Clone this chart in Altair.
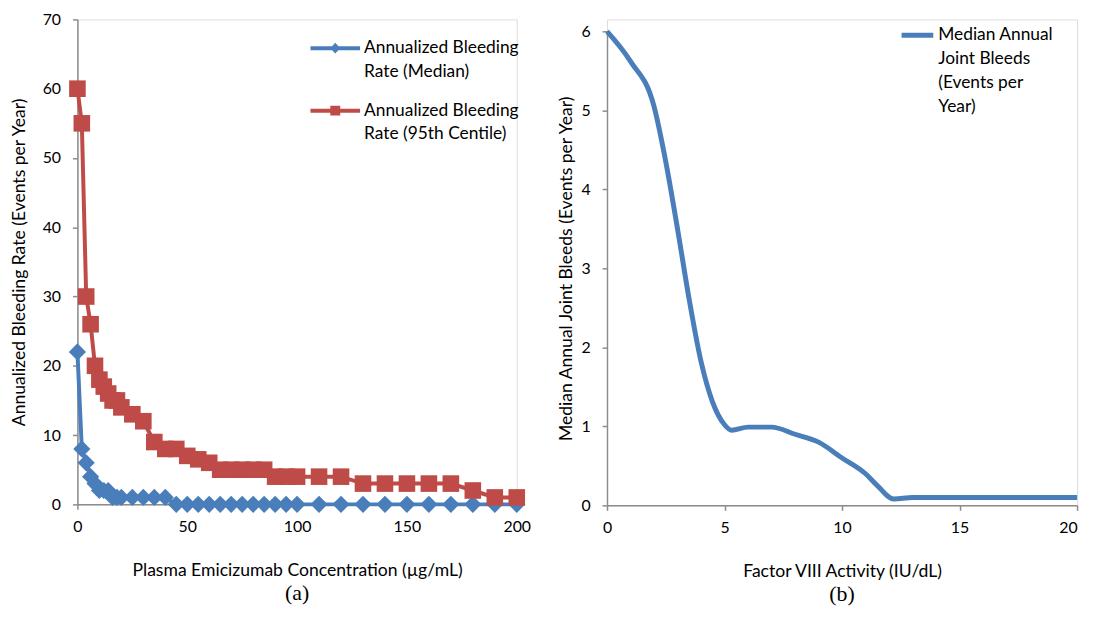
import altair as alt
import pandas as pd

# ---- Panel (a) data ----
conc = [0, 2, 4, 6, 8, 10, 12, 14, 16, 18, 20, 25, 30, 35, 40, 45, 50, 55, 60, 65,
        70, 75, 80, 85, 90, 95, 100, 110, 120, 130, 140, 150, 160, 170, 180, 190, 200]
abr_median = [22, 8, 6, 4, 3, 2, 2, 2, 1, 1, 1, 1, 1, 1, 1, 0, 0, 0, 0, 0,
              0, 0, 0, 0, 0, 0, 0, 0, 0, 0, 0, 0, 0, 0, 0, 0, 0]
abr_p95 = [60, 55, 30, 26, 20, 18, 17, 16, 15, 15, 14, 13, 12, 9, 8, 8, 7, 6.5, 6, 5,
           5, 5, 5, 5, 4, 4, 4, 4, 4, 3, 3, 3, 3, 3, 2, 1, 1]
series_a = ["Median", "P95"]

# ---- Panel (b) data ----
fviii = [0, 1, 2, 2.5, 3, 3.5, 4, 4.5, 5, 5.3, 6, 7, 8, 9, 10, 11, 11.5, 12.2, 13, 15, 20]
ajb = [6, 5.62, 5.05, 4.35, 3.5, 2.6, 1.82, 1.3, 1.02, 0.95, 0.99, 0.99, 0.9, 0.8, 0.6,
       0.4, 0.25, 0.08, 0.1, 0.1, 0.1]

FONT = "Lato"
BLUE = "#4A7EBB"
RED = "#BE4B48"
GRAY = "#8C8C8C"

n = len(conc)
df_a = pd.DataFrame({
    "conc": conc * 2,
    "abr": abr_median + abr_p95,
    "series": [series_a[0]] * n + [series_a[1]] * n,
})
df_b = pd.DataFrame({"fviii": fviii, "ajb": ajb, "series_b": ["AJB"] * len(fviii)})

axis_common = dict(
    domainColor=GRAY, domainWidth=1.5, tickColor=GRAY, tickWidth=1.5, tickSize=5,
    labelFont=FONT, labelFontSize=16, labelColor="#000000", labelFlush=False,
    labelLineHeight=16,
    titleFont=FONT, titleFontSize=17.7, titleFontWeight="normal", titleColor="#000000",
    grid=False,
)

x_a = alt.X("conc:Q", scale=alt.Scale(domain=[0, 200], nice=False),
            axis=alt.Axis(values=[0, 50, 100, 150, 200], title="Plasma Emicizumab Concentration (µg/mL)",
                          labelPadding=9, titlePadding=28, **axis_common))
y_a = alt.Y("abr:Q", scale=alt.Scale(domain=[0, 70], nice=False),
            axis=alt.Axis(values=list(range(0, 71, 10)), title="Annualized Bleeding Rate (Events per Year)",
                          labelPadding=12, titlePadding=14, **axis_common))

base_a = alt.Chart(df_a)
line_m = base_a.transform_filter("datum.series == 'Median'").mark_line(
    color=BLUE, strokeWidth=4).encode(x=x_a, y=y_a)
pts_m = base_a.transform_filter("datum.series == 'Median'").mark_point(
    shape="diamond", filled=True, size=300, color=BLUE, opacity=1).encode(x=x_a, y=y_a)
line_r = base_a.transform_filter("datum.series == 'P95'").mark_line(
    color=RED, strokeWidth=4).encode(x=x_a, y=y_a)
pts_r = base_a.transform_filter("datum.series == 'P95'").mark_point(
    shape="square", filled=True, size=280, color=RED, opacity=1).encode(x=x_a, y=y_a)

# legend symbols: line + marker
PATH_D = "M-1,-0.08 L1,-0.08 L1,0.08 L-1,0.08 Z M0,-0.22 L0.2,0 L0,0.22 L-0.2,0 Z"
PATH_S = "M-1,-0.08 L1,-0.08 L1,0.08 L-1,0.08 Z M-0.2,-0.2 L0.2,-0.2 L0.2,0.2 L-0.2,0.2 Z"

leg_expr_a = ("datum.value == 'Median' ? ['Annualized Bleeding', 'Rate (Median)'] : "
              "['Annualized Bleeding', 'Rate (95th Centile)']")
legend_a = alt.Legend(title=None, orient="none", legendX=235, legendY=4, symbolSize=2500,
                      symbolStrokeWidth=0, labelOffset=4, labelExpr=leg_expr_a,
                      labelFont=FONT, labelFontSize=17.5, labelColor="#000000", labelLimit=400,
                      rowPadding=5, padding=0)
leg_a = base_a.transform_filter("false").mark_point(filled=True, opacity=1).encode(
    x=x_a, y=y_a,
    color=alt.Color("series:N", scale=alt.Scale(domain=series_a, range=[BLUE, RED]), legend=legend_a),
    shape=alt.Shape("series:N", scale=alt.Scale(domain=series_a, range=[PATH_D, PATH_S]), legend=legend_a),
)

left = alt.layer(line_m, pts_m, line_r, pts_r, leg_a).properties(
    width=443, height=489,
    title=alt.TitleParams("(a)", orient="bottom", font="Liberation Serif", fontSize=22,
                          fontWeight="normal", color="#000000", offset=4),
)

# ---- Panel (b) ----
x_b = alt.X("fviii:Q", scale=alt.Scale(domain=[0, 20], nice=False),
            axis=alt.Axis(values=[0, 5, 10, 15, 20], title="Factor VIII Activity (IU/dL)",
                          labelPadding=9, titlePadding=28,
                          labelAlign=alt.condition("datum.value == 20", alt.value("right"), alt.value("center")),
                          **axis_common))
y_b = alt.Y("ajb:Q", scale=alt.Scale(domain=[0, 6], nice=False, range=[490, 12]),
            axis=alt.Axis(values=list(range(0, 7)), title="Median Annual Joint Bleeds (Events per Year)",
                          labelPadding=12, titlePadding=6, **axis_common))

base_b = alt.Chart(df_b)
line_b = base_b.mark_line(color=BLUE, strokeWidth=5, interpolate="monotone").encode(x=x_b, y=y_b)

PATH_L = "M-1,-0.156 L1,-0.156 L1,0.156 L-1,0.156 Z"
leg_expr_b = "['Median Annual', 'Joint Bleeds', '(Events per', 'Year)']"
legend_b = alt.Legend(title=None, orient="none", legendX=297, legendY=0, symbolSize=1024,
                      symbolStrokeWidth=0, labelOffset=5, labelExpr=leg_expr_b,
                      labelFont=FONT, labelFontSize=17.5, labelColor="#000000", labelLimit=400,
                      padding=0)
leg_b = base_b.transform_filter("false").mark_point(filled=True, opacity=1).encode(
    x=x_b, y=y_b,
    color=alt.Color("series_b:N", scale=alt.Scale(domain=["AJB"], range=[BLUE]), legend=legend_b),
    shape=alt.Shape("series_b:N", scale=alt.Scale(domain=["AJB"], range=[PATH_L]), legend=legend_b),
)

right = alt.layer(line_b, leg_b).properties(
    width=474, height=490,
    title=alt.TitleParams("(b)", orient="bottom", font="Liberation Serif", fontSize=22,
                          fontWeight="normal", color="#000000", offset=4),
)

chart = alt.hconcat(left, right, spacing=25).resolve_scale(
    color="independent", shape="independent"
).resolve_legend(color="independent", shape="independent").properties(
    padding={"left": 1, "top": 0, "right": 0, "bottom": 0}
).configure_view(stroke=None).configure(
    style={"guide-label": {"lineHeight": 24}}
)

chart.save("out.html", embed_options={"renderer": "svg", "actions": False})
